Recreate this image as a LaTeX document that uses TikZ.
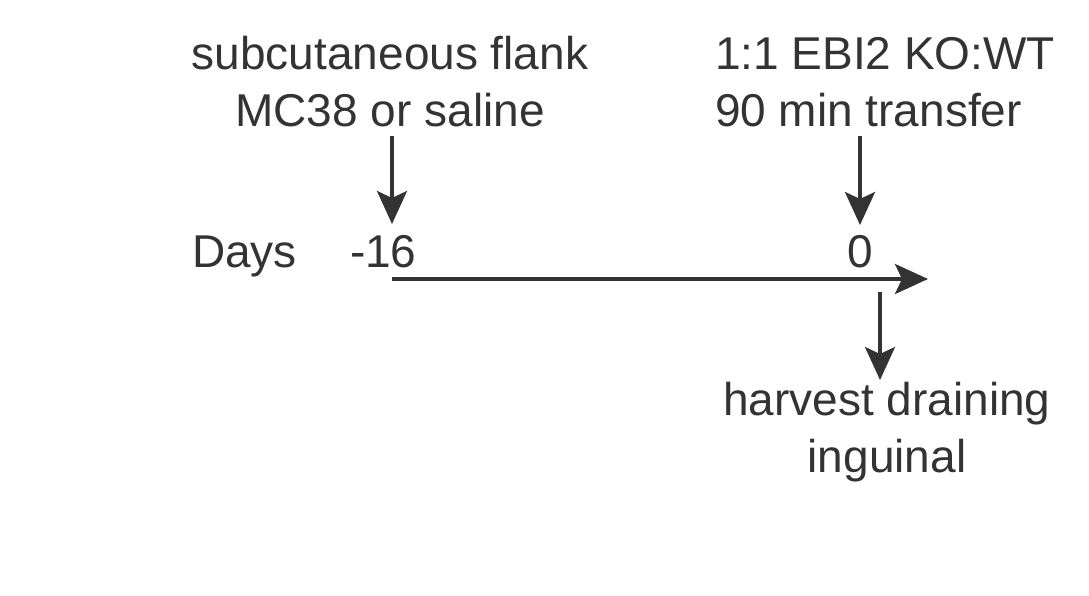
\documentclass[tikz,border=0pt]{standalone}
\usepackage{fontspec}
\setmainfont{Liberation Sans}
\usetikzlibrary{arrows.meta}
\definecolor{ink}{HTML}{333333}
\tikzset{
  lbl/.style={inner sep=0pt, outer sep=0pt, text=ink, font=\fontsize{46}{57}\selectfont},
  arr/.style={draw=ink, line width=3.6pt, -{Stealth[length=33pt,width=30pt,inset=7pt]}}
}
\begin{document}
\begin{tikzpicture}[x=1pt,y=-1pt]
\useasboundingbox (0,0) rectangle (1089,596);
\node[lbl, anchor=base, align=center] (t1) at (390,127) {subcutaneous flank\\MC38 or saline};
\node[lbl, anchor=base west, align=left] (t2) at (715,127) {1:1 EBI2 KO:WT\\90 min transfer};
\node[lbl, anchor=base west] (days) at (192,267) {Days};
\node[lbl, anchor=base west] (m16) at (350,267) {-16};
\node[lbl, anchor=base] (zero) at (860,267) {0};
\node[lbl, anchor=base, align=center] (t3) at (887,472) {harvest draining\\inguinal};
\coordinate (a1s) at (392,136);
\coordinate (a1e) at (392,224);
\coordinate (a2s) at (860,136);
\coordinate (a2e) at (860,225);
\coordinate (hs) at (392,279);
\coordinate (he) at (928,279);
\coordinate (a3s) at (880,292);
\coordinate (a3e) at (880,380);
\draw[arr] (a1s) -- (a1e);
\draw[arr] (a2s) -- (a2e);
\draw[arr] (hs) -- (he);
\draw[arr] (a3s) -- (a3e);
\end{tikzpicture}
\end{document}
